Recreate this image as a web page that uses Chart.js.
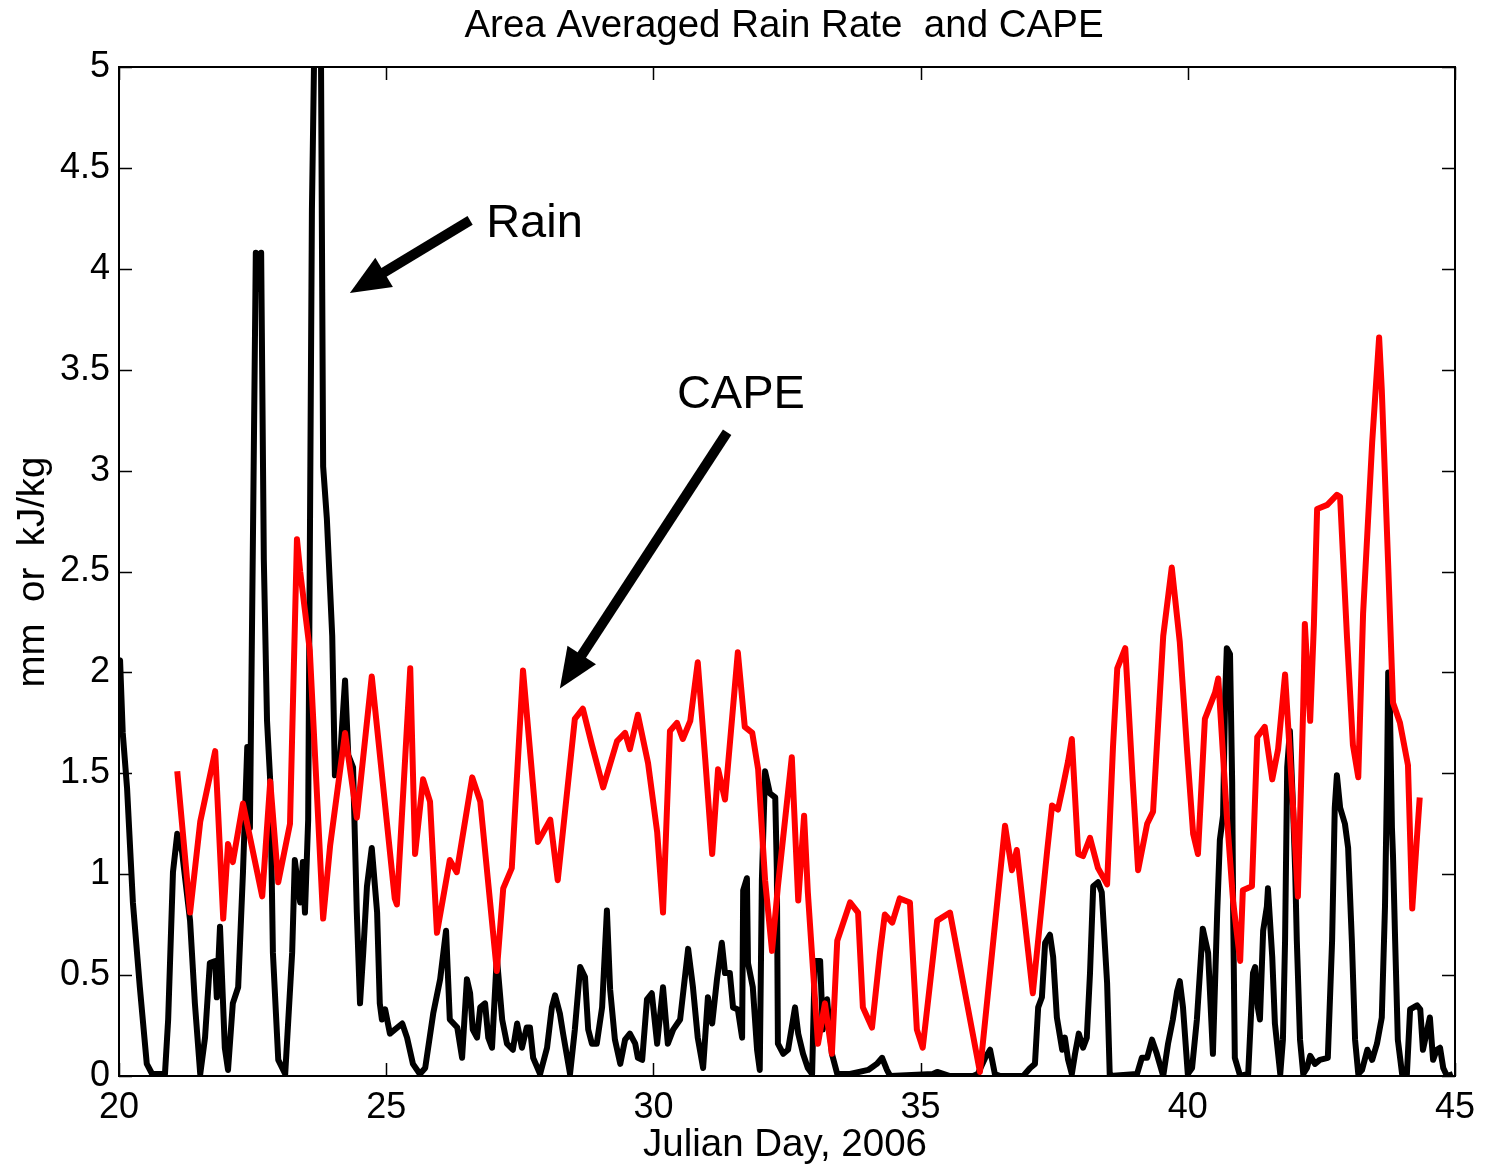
<!DOCTYPE html>
<html>
<head>
<meta charset="utf-8">
<script src="https://cdn.jsdelivr.net/npm/chart.js@4.4.1/dist/chart.umd.min.js"></script>
<style>
  html, body { margin: 0; padding: 0; background: #ffffff; }
  canvas { display: block; }
</style>
</head>
<body>
<canvas id="c" width="1486" height="1167"></canvas>
<script>
// ---------- DATA ----------
const chartTitle = "Area Averaged Rain Rate  and CAPE";
const xAxisLabel = "Julian Day, 2006";
const yAxisLabel = "mm  or  kJ/kg";
const xTickValues = [20, 25, 30, 35, 40, 45];
const yTickValues = [0, 0.5, 1, 1.5, 2, 2.5, 3, 3.5, 4, 4.5, 5];

const rainDays = [20.00,20.02,20.07,20.15,20.26,20.39,20.52,20.62,20.86,20.92,21.01,21.09,21.18,21.33,21.42,21.52,21.61,21.70,21.80,21.83,21.89,21.98,22.04,22.13,22.23,22.32,22.40,22.45,22.51,22.56,22.60,22.66,22.71,22.77,22.83,22.88,22.98,23.11,23.24,23.29,23.39,23.44,23.48,23.54,23.57,23.61,23.65,23.73,23.78,23.82,23.89,23.99,24.04,24.14,24.23,24.29,24.38,24.45,24.51,24.57,24.64,24.73,24.83,24.88,24.92,24.98,25.07,25.30,25.39,25.50,25.63,25.73,25.88,26.01,26.12,26.19,26.33,26.42,26.51,26.57,26.62,26.70,26.76,26.85,26.91,26.98,27.07,27.17,27.26,27.37,27.45,27.54,27.63,27.69,27.75,27.88,28.01,28.10,28.16,28.25,28.31,28.44,28.53,28.63,28.72,28.78,28.85,28.94,29.04,29.13,29.19,29.28,29.38,29.47,29.56,29.66,29.71,29.79,29.88,29.97,30.07,30.18,30.27,30.37,30.50,30.65,30.74,30.83,30.93,31.02,31.10,31.19,31.28,31.34,31.43,31.49,31.58,31.66,31.68,31.75,31.77,31.86,31.94,31.99,32.03,32.09,32.18,32.28,32.31,32.33,32.43,32.52,32.65,32.71,32.80,32.89,32.97,33.02,33.12,33.17,33.25,33.34,33.44,33.68,34.02,34.18,34.28,34.37,34.43,35.23,35.31,35.55,35.98,36.07,36.21,36.30,36.39,36.49,36.92,37.05,37.14,37.20,37.27,37.33,37.42,37.48,37.55,37.65,37.70,37.76,37.83,37.89,37.96,38.04,38.11,38.17,38.23,38.32,38.39,38.49,38.54,39.05,39.14,39.24,39.33,39.42,39.54,39.63,39.72,39.80,39.85,39.91,40.00,40.08,40.17,40.28,40.38,40.47,40.55,40.60,40.66,40.70,40.73,40.79,40.83,40.85,40.88,40.98,41.13,41.22,41.26,41.31,41.35,41.41,41.48,41.50,41.58,41.63,41.73,41.78,41.82,41.86,41.91,41.97,42.01,42.04,42.10,42.16,42.23,42.29,42.38,42.47,42.62,42.70,42.75,42.79,42.85,42.94,43.00,43.07,43.13,43.19,43.26,43.36,43.45,43.54,43.63,43.69,43.73,43.75,43.78,43.82,43.84,43.88,43.93,44.01,44.10,44.16,44.29,44.35,44.40,44.53,44.59,44.66,44.72,44.78,44.85,44.96];
const rainValues = [2.05,2.06,1.70,1.43,0.86,0.44,0.06,0.01,0.01,0.28,1.01,1.20,1.11,0.77,0.36,0.01,0.19,0.56,0.57,0.39,0.74,0.14,0.03,0.36,0.44,1.01,1.63,1.23,2.76,4.08,3.90,4.08,2.56,1.76,1.46,0.61,0.08,0.01,0.61,1.07,0.86,1.06,0.81,1.27,2.56,4.29,5.03,6.00,5.03,3.02,2.76,2.18,1.49,1.59,1.96,1.59,1.53,0.81,0.36,0.61,0.94,1.13,0.81,0.36,0.28,0.33,0.21,0.26,0.19,0.06,0.01,0.04,0.31,0.48,0.72,0.28,0.24,0.09,0.48,0.41,0.23,0.19,0.34,0.36,0.19,0.14,0.59,0.28,0.16,0.13,0.26,0.14,0.24,0.24,0.09,0.01,0.14,0.34,0.40,0.31,0.21,0.01,0.23,0.54,0.49,0.23,0.16,0.16,0.34,0.82,0.43,0.18,0.06,0.18,0.21,0.16,0.09,0.08,0.38,0.41,0.16,0.44,0.16,0.23,0.28,0.63,0.44,0.19,0.04,0.39,0.26,0.48,0.66,0.51,0.51,0.34,0.33,0.19,0.92,0.98,0.56,0.44,0.13,0.03,0.97,1.51,1.40,1.38,1.02,0.16,0.11,0.13,0.34,0.21,0.11,0.04,0.01,0.57,0.57,0.23,0.38,0.11,0.01,0.01,0.03,0.06,0.09,0.03,0.00,0.01,0.02,0.00,0.00,0.01,0.09,0.13,0.01,0.00,0.00,0.04,0.06,0.34,0.39,0.66,0.70,0.59,0.29,0.13,0.19,0.08,0.01,0.11,0.21,0.14,0.19,0.51,0.94,0.96,0.91,0.46,0.00,0.01,0.09,0.09,0.18,0.11,0.00,0.16,0.28,0.42,0.47,0.34,0.01,0.04,0.28,0.73,0.61,0.11,0.81,1.17,1.29,1.89,2.12,2.09,1.46,0.78,0.09,0.00,0.01,0.51,0.54,0.34,0.28,0.72,0.84,0.93,0.59,0.26,0.01,0.18,0.67,1.53,1.71,1.33,1.01,0.67,0.18,0.01,0.04,0.10,0.06,0.08,0.09,0.67,1.33,1.49,1.33,1.25,1.13,0.67,0.18,0.01,0.03,0.13,0.08,0.16,0.29,0.84,1.50,2.00,1.86,1.23,1.09,0.67,0.18,0.01,0.01,0.33,0.35,0.33,0.13,0.29,0.08,0.13,0.14,0.04,0.00,0.01];

const capeDays = [21.09,21.33,21.52,21.80,21.95,22.04,22.13,22.32,22.68,22.83,22.98,23.20,23.33,23.39,23.57,23.82,23.95,24.23,24.45,24.73,25.16,25.20,25.45,25.54,25.69,25.82,25.95,26.19,26.32,26.61,26.76,27.07,27.19,27.35,27.56,27.84,28.07,28.21,28.53,28.68,28.85,29.06,29.32,29.47,29.56,29.71,29.90,30.07,30.18,30.31,30.44,30.55,30.69,30.83,30.97,31.10,31.21,31.34,31.58,31.71,31.85,31.96,32.09,32.22,32.33,32.59,32.71,32.82,32.89,33.08,33.21,33.34,33.44,33.68,33.83,33.92,34.09,34.24,34.33,34.47,34.61,34.80,34.93,35.04,35.31,35.55,36.11,36.58,36.71,36.80,37.10,37.37,37.46,37.57,37.66,37.76,37.83,37.95,38.04,38.17,38.32,38.49,38.60,38.68,38.83,38.97,39.07,39.24,39.35,39.42,39.54,39.70,39.85,39.99,40.10,40.19,40.32,40.51,40.57,40.73,40.85,40.98,41.03,41.20,41.30,41.44,41.58,41.69,41.82,41.97,42.06,42.16,42.19,42.29,42.36,42.42,42.61,42.79,42.85,42.98,43.09,43.19,43.28,43.45,43.58,43.63,43.75,43.84,43.97,44.12,44.20,44.29,44.34];
const capeValues = [1.51,0.81,1.26,1.61,0.78,1.15,1.06,1.35,0.89,1.46,0.96,1.25,2.66,2.50,2.11,0.78,1.14,1.70,1.28,1.98,0.88,0.85,2.02,1.10,1.47,1.36,0.71,1.07,1.01,1.48,1.36,0.52,0.93,1.03,2.01,1.16,1.27,0.97,1.77,1.82,1.64,1.43,1.66,1.70,1.62,1.79,1.55,1.21,0.81,1.71,1.75,1.67,1.76,2.05,1.57,1.10,1.52,1.37,2.10,1.73,1.70,1.52,0.97,0.62,0.94,1.58,0.87,1.29,0.91,0.16,0.36,0.11,0.67,0.86,0.81,0.34,0.24,0.61,0.80,0.76,0.88,0.86,0.23,0.14,0.77,0.81,0.02,1.24,1.02,1.12,0.41,1.12,1.34,1.32,1.43,1.56,1.67,1.10,1.09,1.18,1.03,0.95,1.63,2.02,2.12,1.46,1.02,1.25,1.31,1.63,2.18,2.52,2.15,1.60,1.20,1.10,1.77,1.90,1.97,1.29,0.86,0.57,0.92,0.94,1.68,1.73,1.47,1.62,1.99,1.33,0.89,1.83,2.24,1.76,2.24,2.81,2.83,2.88,2.87,2.17,1.64,1.48,2.29,3.14,3.66,3.40,2.53,1.85,1.75,1.54,0.83,1.19,1.38];

// annotation anchors, in data units (day, value)
const rainNote = { text: "Rain", label: [26.87, 4.16], tail: [26.57, 4.24], tip: [24.32, 3.88] };
const capeNote = { text: "CAPE", label: [30.44, 3.31], tail: [31.38, 3.19], tip: [28.25, 1.92] };

// ---------- build ----------
const FONT = "'Liberation Sans', Arial, Helvetica, sans-serif";
const rainPts = rainDays.map((d, i) => ({ x: d, y: rainValues[i] }));
const capePts = capeDays.map((d, i) => ({ x: d, y: capeValues[i] }));

const framePlugin = {
  id: 'matlabFrame',
  afterDatasetsDraw(chart) {
    const { ctx, chartArea: a, scales: { x, y } } = chart;
    ctx.save();
    const arrow = (note) => {
      const tx = x.getPixelForValue(note.tail[0]), ty = y.getPixelForValue(note.tail[1]);
      const px = x.getPixelForValue(note.tip[0]), py = y.getPixelForValue(note.tip[1]);
      const ang = Math.atan2(py - ty, px - tx);
      const headLen = 40, headHalf = 17;
      const bx = px - headLen * Math.cos(ang), by = py - headLen * Math.sin(ang);
      ctx.strokeStyle = '#000'; ctx.fillStyle = '#000';
      ctx.lineWidth = 10; ctx.lineCap = 'butt';
      ctx.beginPath(); ctx.moveTo(tx, ty); ctx.lineTo(bx + 4 * Math.cos(ang), by + 4 * Math.sin(ang)); ctx.stroke();
      ctx.beginPath();
      ctx.moveTo(px, py);
      ctx.lineTo(bx + headHalf * Math.sin(ang), by - headHalf * Math.cos(ang));
      ctx.lineTo(bx - headHalf * Math.sin(ang), by + headHalf * Math.cos(ang));
      ctx.closePath(); ctx.fill();
      ctx.font = '47px ' + FONT; ctx.textAlign = 'left'; ctx.textBaseline = 'alphabetic';
      ctx.fillText(note.text, x.getPixelForValue(note.label[0]), y.getPixelForValue(note.label[1]));
    };
    arrow(rainNote);
    arrow(capeNote);

    ctx.strokeStyle = '#000';
    ctx.lineWidth = 2;
    ctx.strokeRect(a.left, a.top, a.right - a.left, a.bottom - a.top);
    ctx.lineWidth = 1.5;
    const tl = 13;
    ctx.beginPath();
    xTickValues.forEach(v => {
      const p = Math.round(x.getPixelForValue(v)) + 0.5;
      ctx.moveTo(p, a.bottom); ctx.lineTo(p, a.bottom - tl);
      ctx.moveTo(p, a.top); ctx.lineTo(p, a.top + tl);
    });
    yTickValues.forEach(v => {
      const p = Math.round(y.getPixelForValue(v)) + 0.5;
      ctx.moveTo(a.left, p); ctx.lineTo(a.left + tl, p);
      ctx.moveTo(a.right, p); ctx.lineTo(a.right - tl, p);
    });
    ctx.stroke();

    ctx.fillStyle = '#000';
    const cx = (a.left + a.right) / 2;
    ctx.font = '38.5px ' + FONT;
    ctx.textAlign = 'center'; ctx.textBaseline = 'alphabetic';
    ctx.fillText(chartTitle, cx - 3, 37);
    ctx.fillText(xAxisLabel, cx - 2, 1156);
    ctx.translate(44, 572);
    ctx.rotate(-Math.PI / 2);
    ctx.fillText(yAxisLabel, 0, 0);
    ctx.restore();
  }
};

new Chart(document.getElementById('c'), {
  type: 'line',
  data: {
    datasets: [
      { label: 'CAPE', data: capePts, borderColor: '#ff0000', borderWidth: 6,
        pointRadius: 0, tension: 0, fill: false, order: 0, borderJoinStyle: 'round' },
      { label: 'Rain', data: rainPts, borderColor: '#000000', borderWidth: 6,
        pointRadius: 0, tension: 0, fill: false, order: 1, borderJoinStyle: 'round' }
    ]
  },
  options: {
    responsive: false,
    animation: false,
    devicePixelRatio: 1,
    layout: { padding: { top: 67, right: 31, left: 0, bottom: 0 } },
    plugins: { legend: { display: false }, title: { display: false }, tooltip: { enabled: false } },
    scales: {
      x: {
        type: 'linear', min: 20, max: 45,
        afterBuildTicks: s => { s.ticks = xTickValues.map(v => ({ value: v })); },
        afterFit: s => { s.height = 91; },
        grid: { display: false, drawTicks: false },
        border: { display: false },
        ticks: { color: '#000', font: { family: FONT, size: 36 }, padding: 10, maxRotation: 0, autoSkip: false,
                 callback: v => String(v) }
      },
      y: {
        type: 'linear', min: 0, max: 5,
        afterBuildTicks: s => { s.ticks = yTickValues.map(v => ({ value: v })); },
        afterFit: s => { s.width = 119; },
        grid: { display: false, drawTicks: false },
        border: { display: false },
        ticks: { color: '#000', font: { family: FONT, size: 36 }, padding: 9, autoSkip: false,
                 callback: v => String(v) }
      }
    }
  },
  plugins: [framePlugin]
});
</script>
</body>
</html>
